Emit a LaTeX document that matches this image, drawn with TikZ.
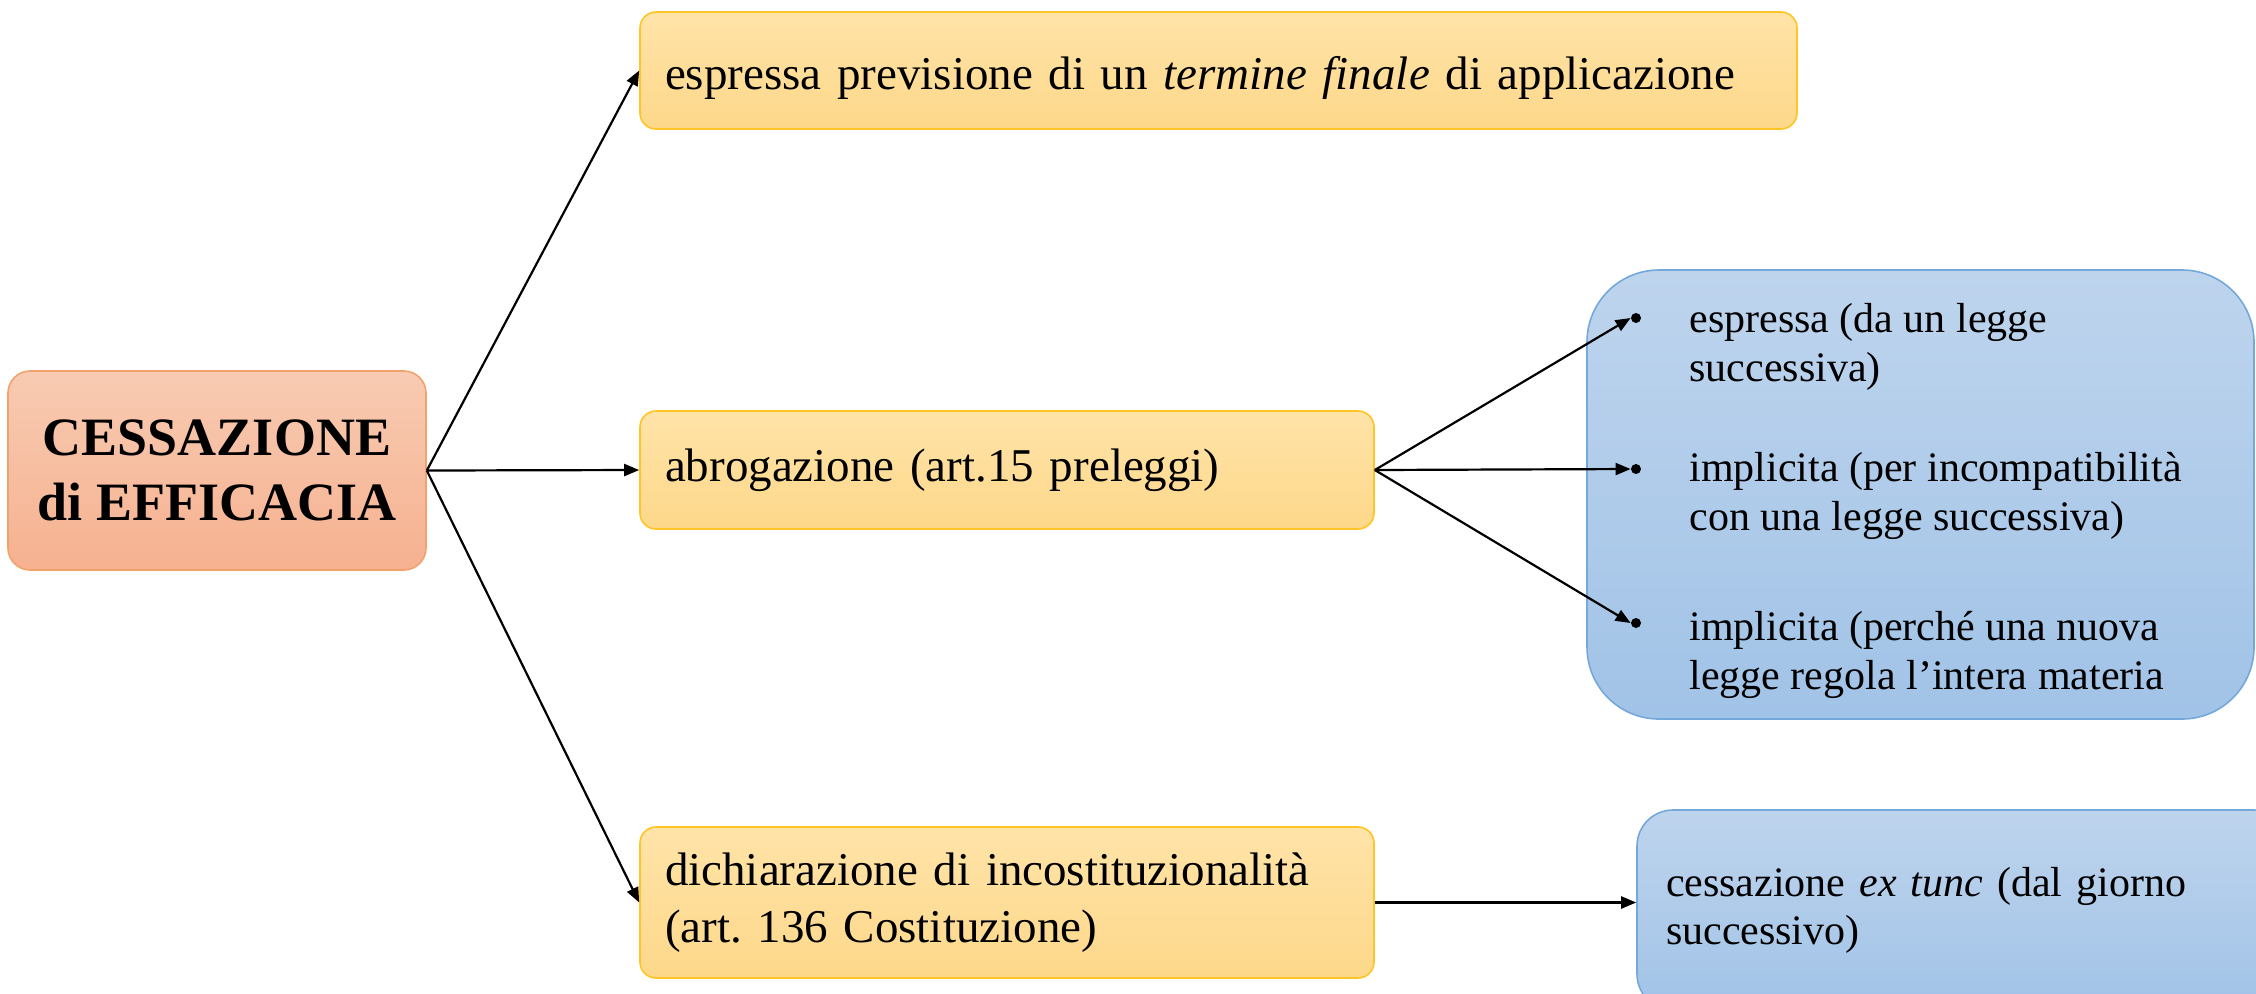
\documentclass[tikz,border=0pt]{standalone}
\usepackage{fontspec}
\setmainfont{Liberation Serif}
\usetikzlibrary{arrows.meta}
\frenchspacing
\definecolor{rootT}{HTML}{F8CBB2}
\definecolor{rootB}{HTML}{F6B190}
\definecolor{rootD}{HTML}{F2A26C}
\definecolor{yelT}{HTML}{FFE3A8}
\definecolor{yelB}{HTML}{FDD88A}
\definecolor{yelD}{HTML}{FFC526}
\definecolor{bluT}{HTML}{BED4ED}
\definecolor{bluB}{HTML}{A1C3E7}
\definecolor{bluD}{HTML}{74A8DA}
\tikzset{
  rootbox/.style={draw=rootD, line width=0.8pt, top color=rootT, bottom color=rootB, rounded corners=11pt, align=center, inner sep=0pt, font=\fontsize{27pt}{32.5pt}\selectfont\bfseries},
  yelbox/.style={draw=yelD, line width=0.8pt, top color=yelT, bottom color=yelB, rounded corners=8pt, align=left, inner xsep=12.5pt, inner ysep=0pt, font=\fontsize{23.5pt}{28.5pt}\selectfont},
  blubox/.style={draw=bluD, line width=0.8pt, top color=bluT, bottom color=bluB, align=left, inner ysep=0pt, font=\fontsize{21pt}{24pt}\selectfont},
  item/.style={anchor=north west, inner sep=0pt, align=left, font=\fontsize{21pt}{24.5pt}\selectfont},
  dot/.style={circle, fill=black, minimum size=5pt, inner sep=0pt},
  arr/.style={-{Triangle[length=7.5pt,width=6pt]}, line width=1.1pt, black},
}
\begin{document}
\begin{tikzpicture}[x=0.5pt, y=-0.5pt]
\useasboundingbox (0,0) rectangle (2256,993);
% boxes
\node[rootbox, minimum width=209pt, minimum height=99.5pt] (root) at (217,470.5) {CESSAZIONE\\di EFFICACIA};
\node[yelbox, minimum width=578.5pt, minimum height=58.5pt, text width=553.5pt, text depth=0pt] (top) at (1218.5,70.5) {\raisebox{-2pt}{espressa previsione di un \textit{termine finale} di applicazione}};
\node[yelbox, minimum width=367pt, minimum height=59pt, text width=342pt] (mid) at (1007,470) {abrogazione (art.15 preleggi)};
\node[yelbox, minimum width=367pt, minimum height=75.5pt, text width=342pt] (bot) at (1007,902.5) {dichiarazione di incostituzionalità\\(art. 136 Costituzione)};
\node[blubox, rounded corners=36pt, minimum width=333.5pt, minimum height=224.5pt] (big) at (1920.5,494.5) {};
\node[blubox, rounded corners=18pt, minimum width=326.5pt, minimum height=100pt, inner xsep=14.5pt, text width=297.5pt] (bb) at (1963.5,910) {cessazione \textit{ex tunc} (dal giorno\\successivo)};
% bullets
\node[dot] (d1) at (1636,318) {};
\node[dot] (d2) at (1636,469) {};
\node[dot] (d3) at (1636,623) {};
\node[item] (t1) at (1689,303) {espressa (da un legge\\successiva)};
\node[item] (t2) at (1689,452) {implicita (per incompatibilità\\con una legge successiva)};
\node[item] (t3) at (1689,611) {implicita (perché una nuova\\legge regola l’intera materia};
% connectors
\draw[arr] (root.east) -- (top.west);
\draw[arr] (root.east) -- (mid.west);
\draw[arr] (root.east) -- (bot.west);
\draw[arr] (mid.east) -- (d1.west);
\draw[arr] (mid.east) -- (d2.west);
\draw[arr] (mid.east) -- (d3.west);
\draw[arr] (bot.east) -- (bot.east -| bb.west);
\end{tikzpicture}
\end{document}
